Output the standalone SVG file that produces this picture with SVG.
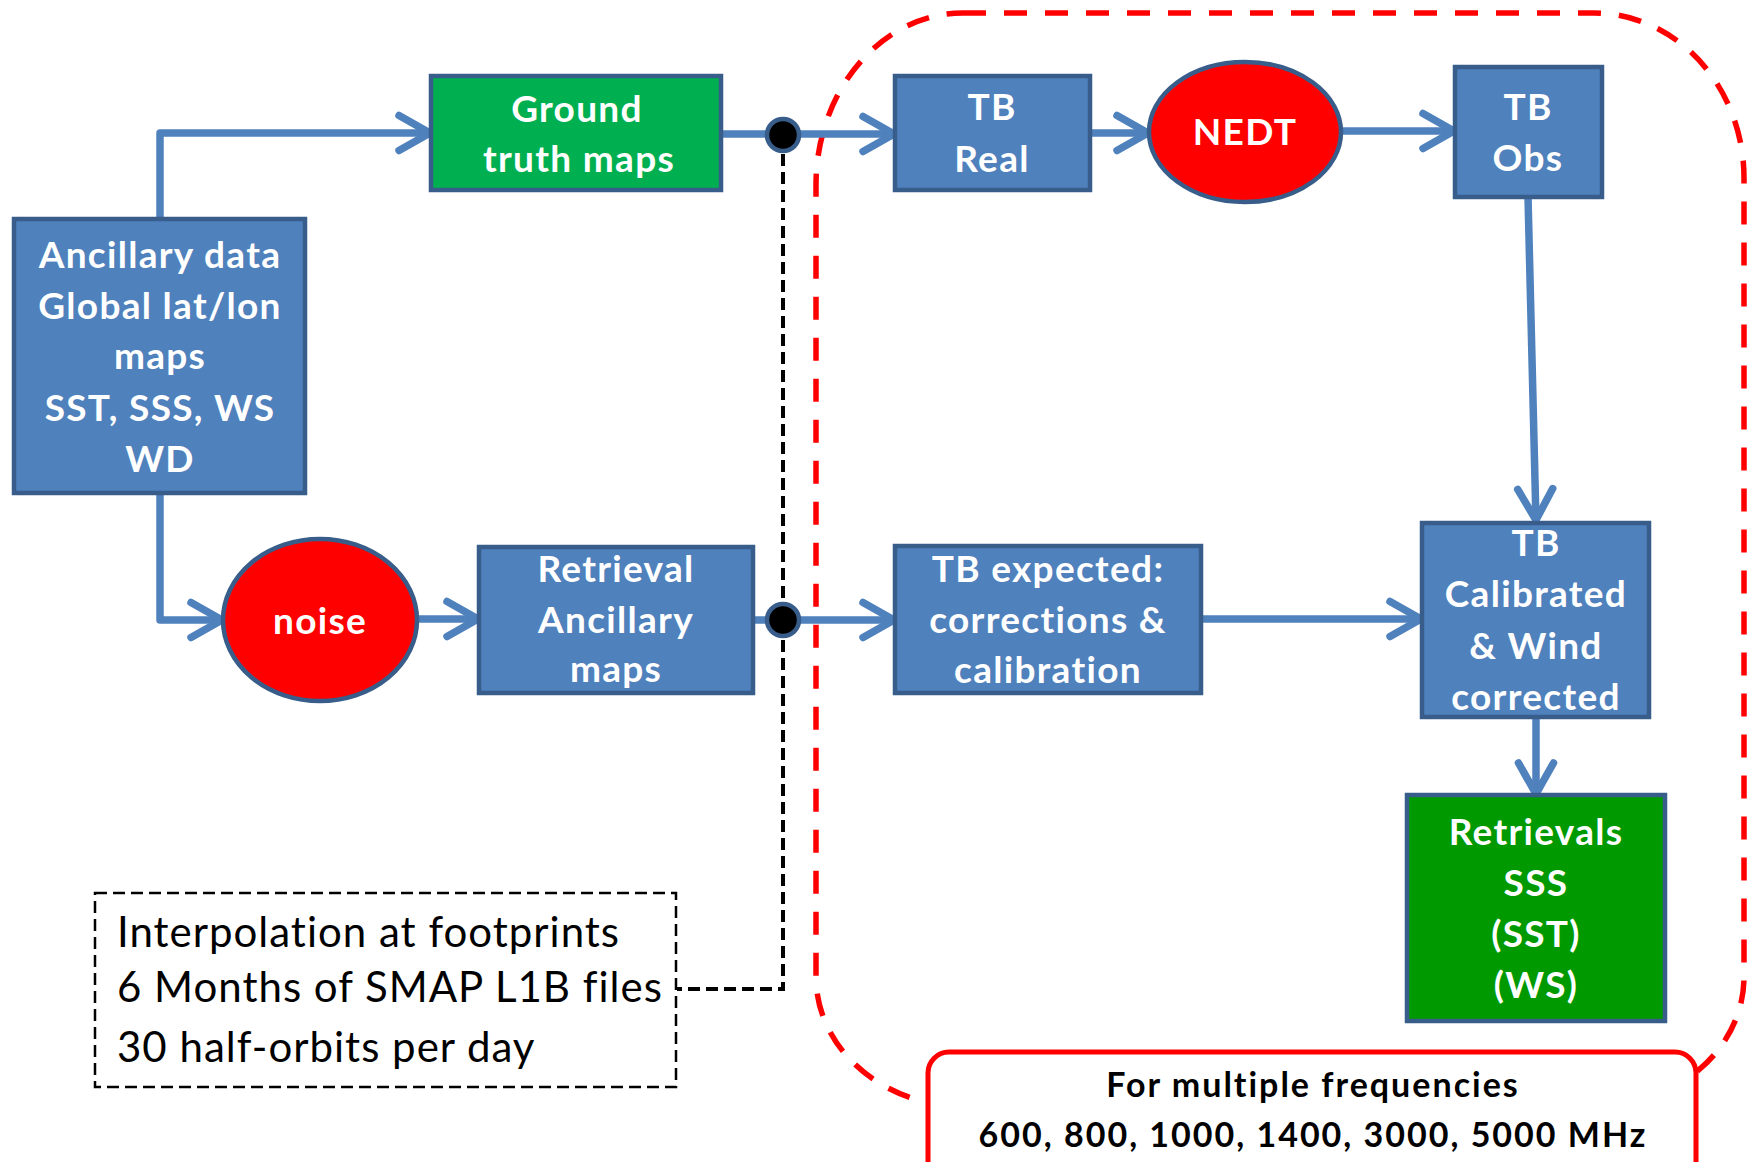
<svg xmlns="http://www.w3.org/2000/svg" width="1748" height="1162" viewBox="0 0 1748 1162">
<style>
.box{fill:#4F81BD;stroke:#385D8A;stroke-width:4.5}
.gbox{fill:#00B050;stroke:#385D8A;stroke-width:4.5}
.gbox2{fill:#009900;stroke:#385D8A;stroke-width:4.5}
.oval{fill:#FF0000;stroke:#385D8A;stroke-width:4.5}
.lbl{font-family:Lato,"Open Sans","Liberation Sans",sans-serif;font-weight:bold;font-size:37px;letter-spacing:1.3px;fill:#FFFFFF;text-anchor:middle}
.note{font-family:Lato,"Open Sans","Liberation Sans",sans-serif;font-size:42px;letter-spacing:1px;fill:#000000}
.freq{font-family:Lato,"Open Sans","Liberation Sans",sans-serif;font-weight:bold;font-size:34px;letter-spacing:2px;fill:#000000;text-anchor:middle}
.conn{fill:none;stroke:#4F81BD;stroke-width:7.5;stroke-linejoin:round}
.dash{fill:none;stroke:#000000;stroke-width:4;stroke-dasharray:12 6}
.dot{fill:#000000;stroke:#385D8A;stroke-width:4.5}
</style>
<defs>
<marker id="arr" markerUnits="userSpaceOnUse" markerWidth="60" markerHeight="60" viewBox="-45 -30 60 60" refX="0" refY="0" orient="auto">
<path d="M-32,-17.5 L-1,0 L-32,17.5" fill="none" stroke="#4F81BD" stroke-width="7.5" stroke-linecap="round" stroke-linejoin="round"/>
</marker>
</defs>
<rect width="1748" height="1162" fill="#FFFFFF"/>

<g id="frame">
<path d="M963,13 L1594,13 A150 165 0 0 1 1744,178 L1744,977 A150 130 0 0 1 1594,1107 L966,1107 A150 130 0 0 1 816,977 L816,185 A147 172 0 0 1 963,13 Z" fill="none" stroke="#FF0000" stroke-width="5.5" stroke-dasharray="23 18"/>
</g>

<g id="connectors">
<path class="dash" d="M783,136 L783,989 L677,989"/>
<path class="conn" d="M160,219 L160,133 L431,133" marker-end="url(#arr)"/>
<path class="conn" d="M721,134 L895,134" marker-end="url(#arr)"/>
<path class="conn" d="M1090,133 L1149,133" marker-end="url(#arr)"/>
<path class="conn" d="M1341,131 L1455,131" marker-end="url(#arr)"/>
<path class="conn" d="M1528,197 L1536,521" marker-end="url(#arr)"/>
<path class="conn" d="M160,493 L160,620 L223,620" marker-end="url(#arr)"/>
<path class="conn" d="M417,619 L479,619" marker-end="url(#arr)"/>
<path class="conn" d="M753,620 L895,620" marker-end="url(#arr)"/>
<path class="conn" d="M1201,619 L1422,619" marker-end="url(#arr)"/>
<path class="conn" d="M1536,717 L1536,795" marker-end="url(#arr)"/>
<circle class="dot" cx="783" cy="135" r="16"/>
<circle class="dot" cx="783" cy="620" r="16"/>
</g>

<g id="ancillary">
<rect class="box" x="14" y="219" width="291" height="274"/>
<text class="lbl" x="160" y="268">Ancillary data</text>
<text class="lbl" x="160" y="319">Global lat/lon</text>
<text class="lbl" x="160" y="369">maps</text>
<text class="lbl" x="160" y="421">SST, SSS, WS</text>
<text class="lbl" x="160" y="472">WD</text>
</g>

<g id="ground-truth">
<rect class="gbox" x="431" y="76" width="290" height="114"/>
<text class="lbl" x="577" y="122">Ground</text>
<text class="lbl" x="579" y="172">truth maps</text>
</g>

<g id="tb-real">
<rect class="box" x="895" y="76" width="195" height="114"/>
<text class="lbl" x="992" y="120">TB</text>
<text class="lbl" x="992" y="172">Real</text>
</g>

<g id="nedt">
<ellipse class="oval" cx="1245" cy="132" rx="96" ry="70"/>
<text class="lbl" x="1245" y="145">NEDT</text>
</g>

<g id="tb-obs">
<rect class="box" x="1455" y="67" width="147" height="130"/>
<text class="lbl" x="1528" y="120">TB</text>
<text class="lbl" x="1528" y="171">Obs</text>
</g>

<g id="noise">
<ellipse class="oval" cx="320" cy="620" rx="97" ry="81"/>
<text class="lbl" x="320" y="634">noise</text>
</g>

<g id="retrieval-ancillary">
<rect class="box" x="479" y="547" width="274" height="146"/>
<text class="lbl" x="616" y="582">Retrieval</text>
<text class="lbl" x="616" y="633">Ancillary</text>
<text class="lbl" x="616" y="682">maps</text>
</g>

<g id="tb-expected">
<rect class="box" x="895" y="546" width="306" height="147"/>
<text class="lbl" x="1048" y="582">TB expected:</text>
<text class="lbl" x="1048" y="633">corrections &amp;</text>
<text class="lbl" x="1048" y="683">calibration</text>
</g>

<g id="tb-calibrated">
<rect class="box" x="1422" y="523" width="227" height="194"/>
<text class="lbl" x="1536" y="556">TB</text>
<text class="lbl" x="1536" y="607">Calibrated</text>
<text class="lbl" x="1536" y="659">&amp; Wind</text>
<text class="lbl" x="1536" y="710">corrected</text>
</g>

<g id="retrievals">
<rect class="gbox2" x="1407" y="795" width="258" height="226"/>
<text class="lbl" x="1536" y="845">Retrievals</text>
<text class="lbl" x="1536" y="896">SSS</text>
<text class="lbl" x="1536" y="947">(SST)</text>
<text class="lbl" x="1536" y="998">(WS)</text>
</g>

<g id="interpolation-note">
<rect x="95" y="893" width="581" height="194" fill="#FFFFFF" stroke="#000000" stroke-width="2.5" stroke-dasharray="12 6"/>
<text class="note" x="117" y="947">Interpolation at footprints</text>
<text class="note" x="117" y="1002">6 Months of SMAP L1B files</text>
<text class="note" x="117" y="1062">30 half-orbits per day</text>
</g>

<g id="frequencies">
<rect x="928" y="1052" width="768" height="140" rx="21" ry="21" fill="#FFFFFF" stroke="#FF0000" stroke-width="5"/>
<text class="freq" x="1313" y="1097">For multiple frequencies</text>
<text class="freq" x="1313" y="1147">600, 800, 1000, 1400, 3000, 5000 MHz</text>
</g>
</svg>
